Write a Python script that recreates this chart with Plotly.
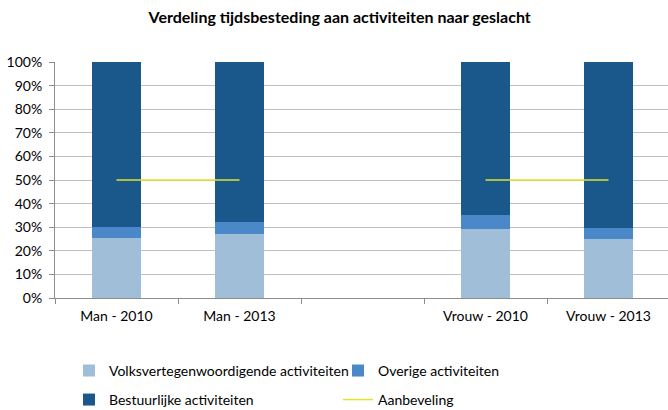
import plotly.graph_objects as go

categories = ["Man - 2010", "Man - 2013", " ", "Vrouw - 2010", "Vrouw - 2013"]
volks = [25.5, 27.0, None, 29.2, 25.0]
overige = [4.6, 5.3, None, 5.8, 4.5]
bestuur = [69.9, 67.7, None, 65.0, 70.5]
aanbeveling = [50, 50, None, 50, 50]
yticks = [0, 10, 20, 30, 40, 50, 60, 70, 80, 90, 100]
ytext = [f"{v}%" for v in yticks]

font = "Lato, 'Open Sans', sans-serif"

fig = go.Figure()
fig.add_bar(x=categories, y=volks, name="Volksvertegenwoordigende activiteiten",
            marker=dict(color="#A0BED8", line=dict(width=0)), legend="legend")
fig.add_bar(x=categories, y=overige, name="Overige activiteiten",
            marker=dict(color="#4A88C9", line=dict(width=0)), legend="legend")
fig.add_bar(x=categories, y=bestuur, name="Bestuurlijke activiteiten",
            marker=dict(color="#1A578A", line=dict(width=0)), legend="legend2")
fig.add_scatter(x=categories, y=aanbeveling, name="Aanbeveling", mode="lines",
                connectgaps=False, line=dict(color="#E2E22A", width=1.5), legend="legend2")

# plot area: x 55..670 (615 px), y 62..298
PW = 615
leg_x = (5 + 13) / PW

leg_common = dict(orientation="h", xanchor="left", yanchor="middle",
                  entrywidth=224, entrywidthmode="pixels", traceorder="normal",
                  font=dict(family=font, size=14), itemwidth=30,
                  bgcolor="rgba(0,0,0,0)")

fig.update_layout(
    width=670, height=410,
    barmode="stack", bargap=0.6,
    margin=dict(l=55, r=0, t=62, b=112, autoexpand=False),
    plot_bgcolor="white", paper_bgcolor="white",
    font=dict(family=font, size=14, color="#000000"),
    title=dict(text="<b>Verdeling tijdsbesteding aan activiteiten naar geslacht</b>",
               x=0.507, xanchor="center", y=0.958, yanchor="middle",
               font=dict(family=font, size=16, color="#000000")),
    legend=dict(x=0.0215 * 605 / PW + 1 / PW, y=-0.309, **leg_common),
    legend2=dict(x=0.0215 * 605 / PW + 1 / PW, y=-0.432, **leg_common),
    showlegend=True,
)
fig.update_xaxes(type="category", showgrid=False, showline=True, linecolor="#8C8C8C",
                 ticks="outside", tickson="boundaries", ticklen=5, tickcolor="#8C8C8C",
                 ticklabelstandoff=5,
                 tickfont=dict(family=font, size=14))
fig.update_yaxes(range=[0, 100], tickvals=yticks, ticktext=ytext, showgrid=True,
                 gridcolor="#BEBEBE", gridwidth=1, showline=True, linecolor="#8C8C8C",
                 ticks="outside", ticklen=5, tickcolor="#8C8C8C", zeroline=False,
                 ticklabelstandoff=4,
                 tickfont=dict(family=font, size=14))

fig.write_html("out.html", config={"displayModeBar": False},
               post_script="document.body.style.margin='0';document.body.style.overflow='hidden';")
